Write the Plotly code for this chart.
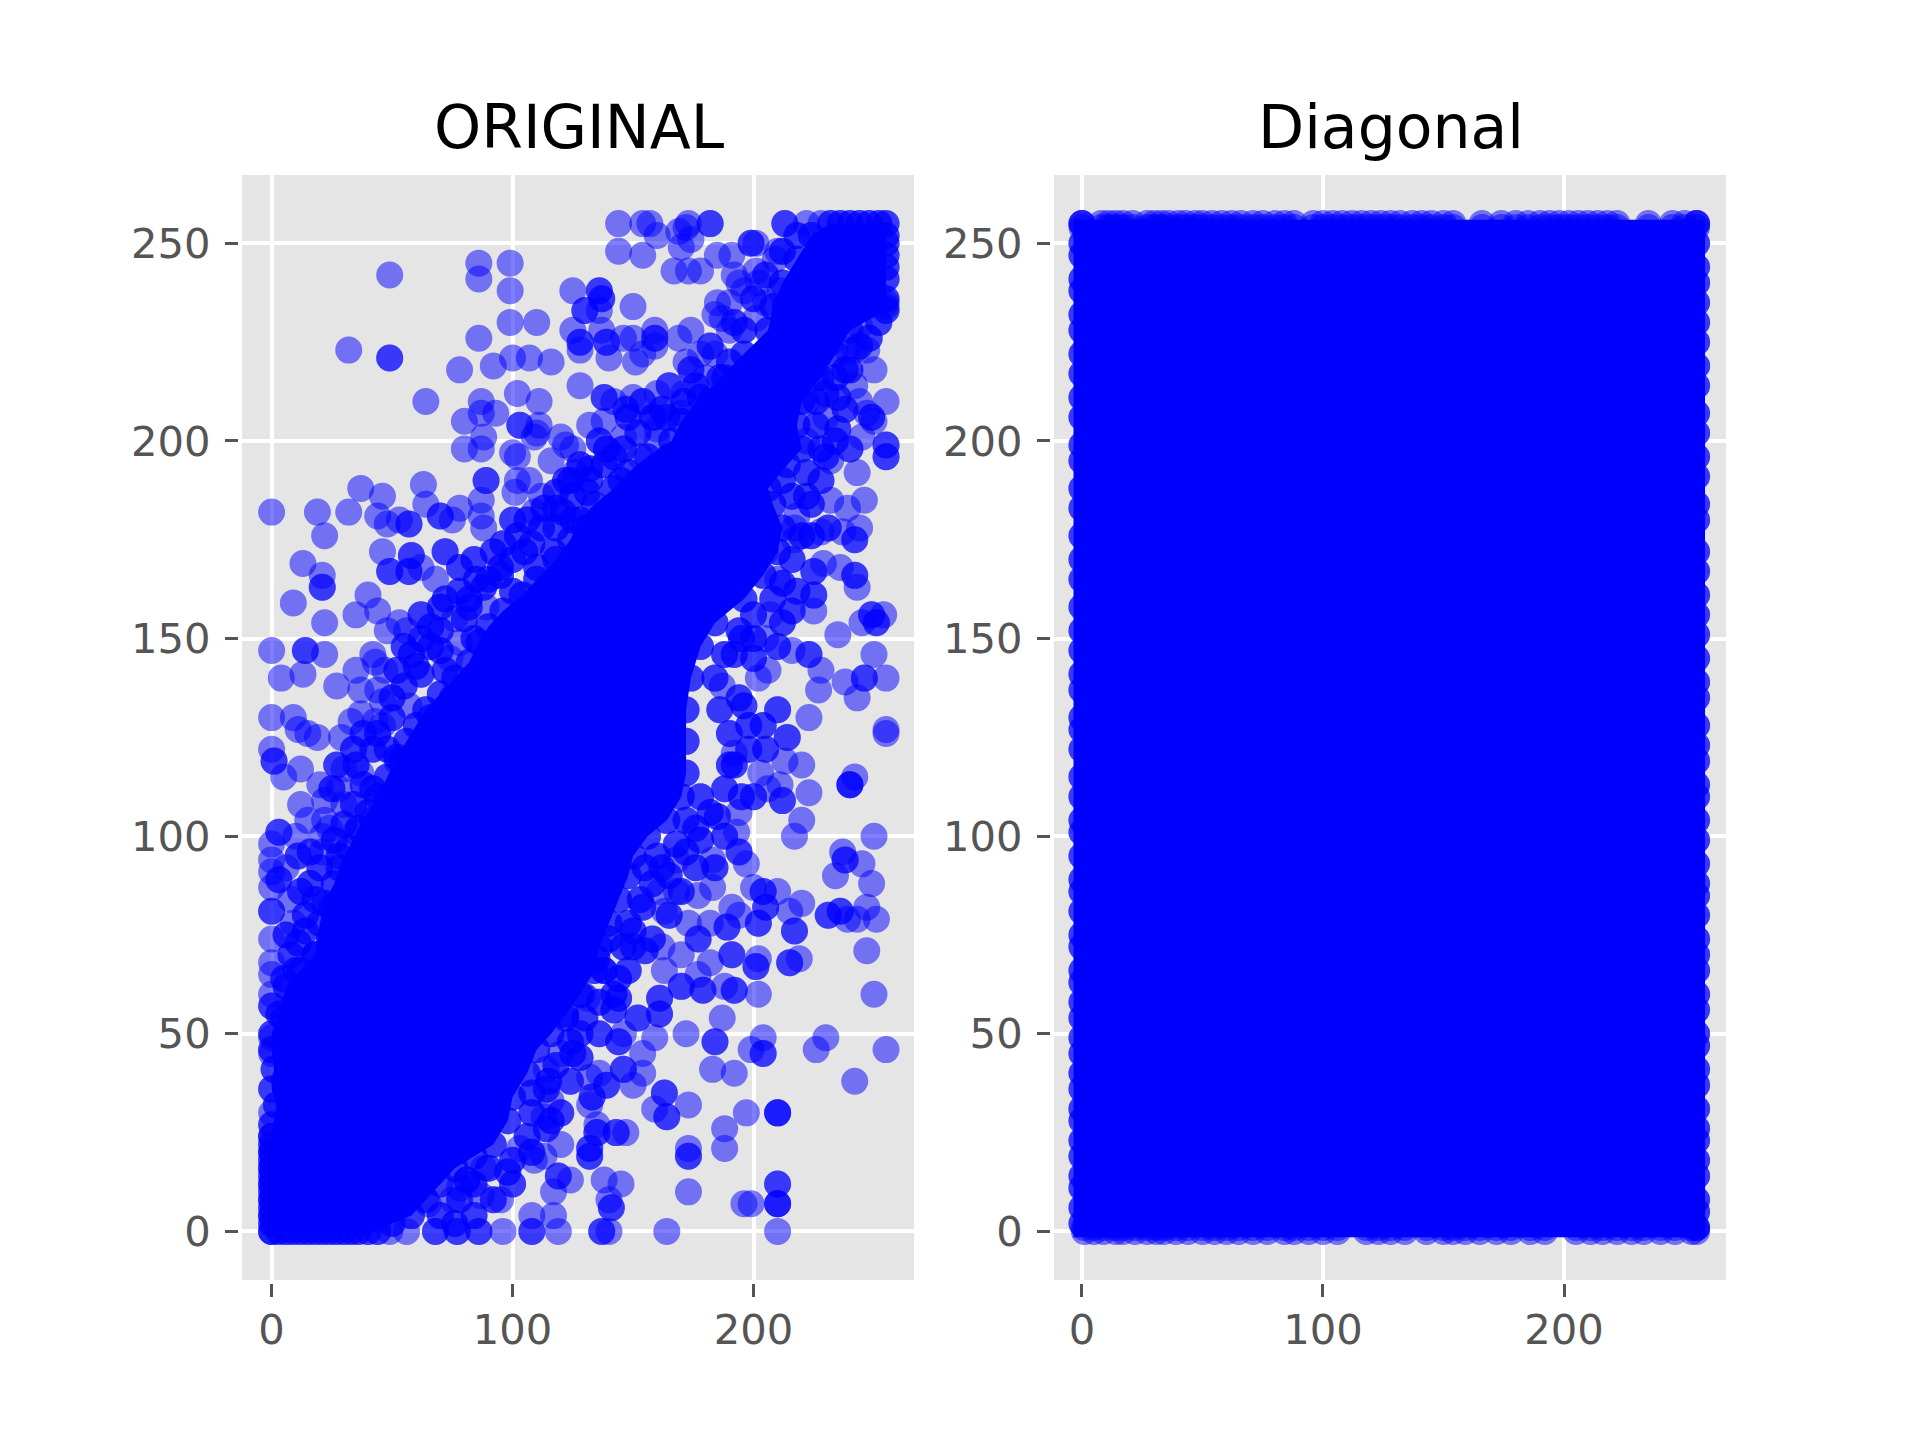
import plotly.graph_objects as go

# Each entry: (x, y, how dark the overlap looks there: more means more dots on the same spot)
upper_middle = [(144,255,1),(154,255,1),(157,255,1),(160,252,1),(169,253,1),(172,254,1),(173,255,1),(174,251,1),(182,255,2),
 (144,248,1),(154,247,1),(170,249,1),(167,243,1),(173,243,1),(178,243,1),(185,247,1),(191,247,1),(199,250,2),(201,250,1),
 (213,255,2),(222,255,1),(210,248,1),(209,246,1),(192,242,1),(194,240,1),(201,243,1),(196,238,1),(202,240,1),(185,235,1),
 (184,232,1),(190,235,1),(187,231,1),(201,231,1),(196,228,2),(211,238,1),(213,234,1),(228,255,1),(205,235,1),(190,228,1),
 (125,238,1),(136,238,2),(137,236,2),(130,233,2),(136,233,1),(150,234,1),(125,228,1),(128,225,2),(128,223,1),(137,228,1),
 (139,225,2),(140,221,1),(146,226,1),(150,226,1),(159,228,1),(159,226,2),(159,224,1),(151,220,1),(154,222,1),(169,226,1),
 (174,228,1),(172,220,1),(128,214,1),(138,211,2),(142,210,1),(147,208,2),(150,211,1),(160,212,1),(159,206,1),(162,208,2),
 (170,207,1),(171,212,1),(171,210,3),(182,210,4),(132,204,1),(138,205,1),(146,201,1),(139,198,3),(132,193,3),(125,198,1),
 (122,199,1),(160,203,1),(160,200,1),(153,196,1),(178,222,1),(184,222,1),(190,220,2),(180,216,1),(188,216,2),(165,196,2),(145,190,2)]
upper_left = [(49,242,1),(86,245,1),(86,241,1),(99,245,1),(99,238,1),(99,230,1),(110,230,1),(86,226,1),(32,223,1),(49,221,2),
 (78,218,1),(92,219,1),(100,221,1),(107,221,1),(116,220,1),(64,210,1),(87,210,1),(87,207,1),(93,207,1),(80,205,1),(102,212,1),
 (111,210,1),(103,204,2),(110,202,1),(111,204,1),(88,201,1),(80,198,1),(87,198,1),(100,197,1),(102,196,1),(109,201,1),(120,201,1),
 (116,195,1),(126,192,1),(122,190,2),(131,187,2),(118,187,2),(125,180,2),(130,178,2),(117,172,2),(110,168,2)]
upper_right = [(255,210,1),(255,235,1),(255,234,1),(244,229,1),(247,223,1),(242,223,1),(239,223,1),(242,214,1),(235,211,3),(244,210,1),
 (247,207,1),(249,206,2),(250,205,1),(235,203,2),(230,206,1),(240,198,2),(245,201,1),(232,195,1),(243,192,1),(255,199,3),(255,196,3),
 (224,184,3),(232,185,1),(239,183,1),(246,185,1),(231,178,3),(228,177,1),(237,177,1),(244,178,1),(242,175,2),(217,178,1),(217,175,1),
 (218,181,1),(229,169,1),(236,168,1),(242,166,2),(243,163,1),(225,167,2),(225,161,3),(225,157,1),(216,157,2),(207,156,1),(245,154,1),
 (249,156,2),(254,156,1),(251,154,2),(235,151,1),(210,148,3),(216,147,1),(223,146,2),(250,146,1),(228,142,1),(238,139,1),(246,140,3),
 (255,140,1),(243,135,1),(227,137,1),(223,130,1),(255,127,1),(210,132,2),(202,140,1),(196,133,3),(187,138,1),(205,150,1),(200,145,2),
 (195,150,2),(210,165,1),(205,172,1),(212,190,2),(222,200,1),(228,190,2),(222,210,1),(226,216,1),(240,232,1),(250,236,2),(232,225,1)]
middle_left = [(0,182,1),(19,182,1),(32,182,1),(22,176,1),(37,188,1),(46,186,1),(63,189,1),(64,184,1),(44,181,1),(48,179,1),(53,180,1),
 (57,179,2),(70,181,3),(75,180,1),(78,183,1),(87,185,1),(87,181,1),(88,178,1),(100,180,2),(101,187,1),(102,190,1),(89,190,2),(107,190,1),
 (112,186,1),(109,182,1),(121,182,2),(46,172,1),(49,167,2),(58,171,2),(57,167,2),(62,168,1),(13,169,1),(21,166,1),(21,163,3),(9,159,1),
 (40,161,1),(35,156,1),(44,157,1),(48,152,1),(53,154,1),(22,154,1),(62,156,2),(70,158,2),(80,155,3),(89,158,1),(0,147,1),(14,147,2),
 (22,146,1),(55,148,2),(42,146,1),(47,142,1),(43,144,1),(35,142,1),(4,140,1),(13,141,1),(27,138,1),(37,137,1),(44,137,1),(70,147,2),
 (78,149,1),(74,145,1),(62,141,3),(0,130,1),(9,130,1),(11,127,1),(15,126,1),(33,129,1),(37,131,1),(43,129,1),(57,133,1),(72,172,2),
 (78,168,2),(92,172,2),(85,165,2),(95,168,2),(105,172,2),(100,162,2),(82,160,2),(68,165,1),(75,135,2),(66,130,2),(72,142,2),(84,150,2)]
lower_left = [(0,122,1),(1,119,3),(5,115,1),(12,117,1),(19,125,1),(29,125,1),(12,108,1),(22,109,1),(25,112,2),(30,117,1),(37,116,1),
 (42,112,3),(52,119,1),(54,119,2),(3,101,2),(0,98,1),(11,95,2),(21,100,1),(24,102,1),(21,96,1),(35,101,1),(0,94,1),(0,91,1),(3,89,2),
 (0,87,1),(0,81,3),(14,80,2),(0,74,1),(11,73,2),(0,68,1),(0,65,1),(5,64,2),(0,60,1),(0,57,2),(0,49,1),(0,45,1),(5,38,1),(0,30,1),(0,27,3),
 (28,95,2),(34,92,2),(16,88,2),(25,82,2),(42,104,2),(8,84,1),(18,70,2),(24,74,2),(10,66,2),(5,54,2),(30,108,1),(48,110,2)]
lower_right = [(255,126,1),(242,115,1),(240,113,4),(220,118,1),(213,119,1),(203,116,1),(192,121,1),(198,122,2),(214,125,2),(223,111,1),
 (211,113,1),(212,109,3),(220,104,1),(217,100,1),(250,100,1),(194,106,1),(193,101,1),(237,96,1),(238,94,2),(245,93,1),(234,90,1),(249,88,1),
 (197,93,1),(178,99,2),(183,94,1),(184,92,3),(168,94,1),(200,87,1),(210,86,1),(204,86,2),(205,82,2),(220,83,1),(215,81,1),(217,76,3),
 (231,80,3),(236,81,3),(243,79,1),(251,79,1),(247,82,1),(239,79,1),(247,71,1),(250,60,1),(202,78,3),(194,80,1),(189,77,2),(191,82,1),
 (182,78,1),(177,74,3),(173,78,1),(163,81,1),(153,84,2),(177,85,1),(168,86,1),(183,87,1),(161,86,1),(150,76,2),(140,74,2),(150,72,2),
 (155,71,3),(162,72,1),(170,70,1),(182,68,1),(191,70,3),(201,67,3),(202,69,1),(215,68,2),(219,69,1),(163,66,1),(177,65,1),(170,62,2),
 (179,61,3),(188,62,1),(192,61,3),(202,60,1),(161,59,3),(142,60,3),(144,59,2),(131,59,1),(138,66,4),(129,67,3),(161,55,2),(152,54,2),
 (187,54,1),(159,49,1),(146,50,1),(172,50,1),(184,48,3),(204,49,1),(199,46,1),(204,45,2),(230,49,1),(226,46,1),(255,46,1),(183,41,1),
 (192,40,1),(242,38,1),(154,45,1),(144,48,2),(154,40,1),(146,41,3),(150,37,1),(132,39,1),(136,40,1),(139,37,3),(133,34,3),(132,32,1),
 (163,35,3),(159,31,1),(164,29,3),(173,32,1),(197,30,1),(210,30,4),(188,26,1),(188,21,1),(173,21,1),(173,19,2),(173,10,1),(210,12,3),
 (210,7,4),(196,7,1),(199,7,1),(190,118,2),(205,122,2),(195,110,2),(185,105,3),(172,104,2),(178,110,3),(160,95,2),(165,90,2),(155,92,2),(172,96,2)]
bottom_row = [(210,0,1),(164,0,1),(140,0,1),(137,0,3),(119,0,1),(108,0,3),(96,0,1),(86,0,2),(77,0,3),(68,0,3),(56,0,1),(49,0,1),(117,4,1),
 (108,4,1),(117,10,1),(119,14,3),(124,13,1),(138,13,1),(145,12,1),(140,8,1),(141,6,2),(109,18,1),(113,19,1),(132,21,3),(132,19,2),(120,22,1),
 (143,25,3),(147,25,1),(135,25,2),(135,27,1),(114,26,3),(120,30,3),(113,29,1),(116,33,1),(98,15,3),(103,21,1),(88,16,1),(87,9,1),(78,11,1),
 (81,13,4),(75,8,1),(65,7,1),(114,41,1),(115,38,3),(120,45,1),(122,54,3),(129,60,1),(135,69,3),(128,50,2),(125,45,2),(108,35,2),(95,8,1)]
fringe_left = [(28,112,1),(35,118,2),(42,122,2),(46,128,1),(50,135,2),(55,138,2),(60,143,2),(66,148,2),(70,152,2),(76,155,1),(82,158,2),
 (88,163,2),(95,166,2),(100,170,2),(108,174,2),(112,178,2),(118,183,2),(125,186,2),(132,190,2),(138,194,2),(146,198,2),(152,202,2),(158,206,2),
 (165,214,2),(174,218,2),(182,224,2),(192,230,2),(200,236,2),(205,242,2),(212,248,2),(218,252,2),(8,70,2),(14,76,2),(18,84,2),(20,92,2),(22,104,1),
 (6,75,2),(9,78,1),(12,86,2),(6,92,1),(16,96,2),(10,100,1),(15,104,1),(26,99,2),(30,103,2),(34,108,2),(38,113,2),(20,113,1),(27,118,2),(34,122,2),
 (38,126,2),(44,126,2),(48,122,2),(50,130,2),(46,134,1),(52,142,2),(58,146,2),(62,150,2),(66,153,2),(56,152,1),(72,160,2),(78,162,2),(84,170,2),
 (90,165,2),(96,174,2),(102,176,2),(106,180,2),(113,183,2),(118,178,2),(124,190,2),(128,194,2),(136,200,2),(142,196,2),(148,206,2),(154,210,2),
 (164,206,2),(176,214,2),(178,205,2)]
fringe_right = [(70,4,2),(78,8,2),(84,12,2),(90,16,2),(100,18,2),(106,24,2),(108,30,2),(114,36,2),(118,42,2),(124,48,2),(130,54,2),(136,58,2),
 (144,64,2),(146,72,2),(148,78,2),(154,82,2),(158,88,2),(162,92,2),(168,98,2),(176,102,2),(182,106,2),(188,112,2),(192,118,2),(190,126,2),
 (186,132,2),(184,140,2),(188,146,2),(194,152,2),(200,156,2),(208,160,2),(212,164,2),(216,170,2),(220,176,2),(216,186,2),(222,192,2),(228,198,2),
 (226,204,2),(230,212,2),(238,218,2),(244,224,2),(252,230,2),(170,86,2),(176,92,2),(188,100,2),(194,96,2),(200,110,2),(206,112,1),(198,128,2),
 (194,135,2),(204,128,2),(192,146,2),(200,150,2),(206,142,1),(212,154,2),(218,162,2),(224,176,2),(222,186,2),(230,196,2),(234,200,2),(226,210,2),
 (238,208,2),(234,216,2),(240,218,2),(248,226,2),(250,218,1),(165,80,2),(158,74,2),(148,66,2),(142,56,2),(136,50,2),(128,44,2),(124,38,2),(116,28,2),
 (108,20,2),(100,12,2),(92,8,2),(84,4,2),(76,2,2)]
corner_fill = [(3,0,2),(9,0,2),(15,0,2),(21,0,2),(27,0,2),(33,0,2),(40,0,2),(0,2,2),(0,6,2),(0,10,2),(0,14,2),(0,18,2),(0,22,2),
 (236,255,2),(244,255,2),(252,255,2),(255,252,2),(255,247,2),(255,241,2),(255,236,2)]

# Dots along the edge of the merged blue area; the solid fill runs between these two edges
edge_left = [(0,0,4),(0,4,4),(0,8,4),(0,12,4),(0,16,4),(0,20,4),(0,24,4),(2,32,3),(0,36,3),(1,41,3),(0,46,3),(0,50,3),(3,55,3),(6,62,3),(12,66,3),
 (18,70,3),(20,78,3),(22,83,3),(26,88,3),(28,92,3),(32,97,3),(36,102,3),(40,106,3),(44,110,3),(48,115,3),(52,120,3),(56,124,3),(60,128,3),
 (64,132,3),(70,136,3),(76,140,3),(82,144,3),(86,149,3),(90,153,3),(96,157,3),(104,161,3),(110,165,3),(118,170,3),(124,175,3),(128,180,3),
 (134,184,3),(142,188,3),(148,192,3),(156,196,3),(166,200,3),(170,205,3),(178,211,3),(186,216,3),(196,222,3),(206,228,3),(208,234,3),(212,240,3),
 (218,246,3),(224,252,3),(232,255,3),(240,255,3),(248,255,3),(255,255,3)]
edge_right = [(6,0,3),(12,0,3),(18,0,3),(24,0,3),(30,0,3),(36,0,3),(44,0,3),(50,2,3),(58,4,3),(64,8,3),(70,12,3),(76,16,3),(84,19,3),(92,22,3),
 (98,28,3),(100,34,3),(106,40,3),(110,46,3),(116,50,3),(122,55,3),(128,60,3),(134,66,3),(136,72,3),(140,78,3),(144,84,3),(148,90,3),(150,95,3),
 (156,100,3),(164,104,3),(170,110,3),(172,116,3),(172,124,3),(172,132,3),(174,140,3),(178,148,3),(184,154,3),(196,160,3),(204,166,3),(210,172,3),
 (212,178,3),(208,184,3),(206,188,3),(214,194,3),(220,198,3),(218,204,3),(220,210,3),(228,216,3),(234,222,3),(240,228,3),(255,233,3),
 (255,244,3),(255,250,3)]

# Corners of the fully merged area of the right panel
solid_right_x = [-3.5,258.5,258.5,-3.5]
solid_right_y = [-1.5,-1.5,256,256]

# Dots that form the scalloped rim of the right panel
rim_top_x = [0,8,11,14,17,21,27,30,33,36,40,43,47,50,54,58,62,66,71,75,80,84,88,96,100,104,108,112,116,120,124,128,132,137,141,145,150,154,166,174,180,185,190,194,198,202,206,210,214,218,222,235,245,250,255]
rim_bottom_x = [1,5,9,14,17,22,27,31,34,39,44,50,55,60,65,71,77,84,88,94,100,106,118,123,128,134,143,150,154,159,165,172,178,186,192,205,211,216,222,228,233,240,246,253,255]
rim_left_y = [2,6,11,14,19,23,28,31,36,40,45,49,54,58,63,66,72,75,81,86,89,95,101,104,110,115,122,127,130,137,141,147,152,158,165,170,176,183,188,195,199,206,211,217,222,228,232,238,241,247,250,255]
rim_right_y = [1,5,8,14,18,23,26,31,37,41,47,50,56,60,66,70,74,80,85,88,93,99,104,110,113,119,123,128,135,139,145,151,156,161,167,172,180,184,191,196,202,207,214,219,225,230,235,240,244,250,255]

ticks_x = [0,100,200]
ticks_y = [0,50,100,150,200,250]

BLUE = "#0000ff"
INK = "#555555"
PAGE = 8  # the page's own margin moves the figure this far right and down
LAYERS = {1: 1, 2: 2, 3: 2, 4: 3}  # dots drawn for each darkness class

points = (upper_middle + upper_left + upper_right + middle_left + lower_left + lower_right + bottom_row
          + fringe_left + fringe_right + corner_fill + edge_left + edge_right)
orig_x = [p[0] for p in points for _ in range(LAYERS[p[2]])]
orig_y = [p[1] for p in points for _ in range(LAYERS[p[2]])]
outline = edge_right + edge_left[::-1]
solid_left_x = [p[0] for p in outline]
solid_left_y = [p[1] for p in outline]

def dots(x, y, xa, ya):
    return go.Scatter(x=x, y=y, xaxis=xa, yaxis=ya, mode="markers", hoverinfo="skip", showlegend=False,
                      marker=dict(size=24, color=BLUE, opacity=0.5, line=dict(width=3, color=BLUE)))

def solid(x, y, xa, ya):
    return go.Scatter(x=x, y=y, xaxis=xa, yaxis=ya, mode="lines", fill="toself", fillcolor=BLUE,
                      line=dict(width=0, color=BLUE), hoverinfo="skip", showlegend=False)

rim_x = (rim_top_x * 2 + rim_bottom_x * 2 + [0] * len(rim_left_y) * 2 + [255] * len(rim_right_y) * 2)
rim_y = ([255] * len(rim_top_x) + [254] * len(rim_top_x) + [0] * len(rim_bottom_x) + [1] * len(rim_bottom_x)
         + rim_left_y * 2 + rim_right_y * 2)

fig = go.Figure([
    dots(orig_x, orig_y, "x", "y"),
    solid(solid_left_x, solid_left_y, "x", "y"),
    dots(rim_x, rim_y, "x2", "y2"),
    solid(solid_right_x, solid_right_y, "x2", "y2"),
])

def xaxis(domain, rng):
    return dict(domain=domain, range=rng, tickmode="array", tickvals=ticks_x, ticks="outside", ticklen=13, tickwidth=3.3,
                tickcolor=INK, showgrid=True, gridcolor="white", gridwidth=3.5, zeroline=False, showline=True,
                linecolor="white", linewidth=4, mirror=True, ticklabelstandoff=-3,
                tickfont=dict(family="DejaVu Sans", size=41.7, color=INK))

def yaxis(rng, anchor):
    return dict(domain=[(160+PAGE)/1440, (1265+PAGE)/1440], range=rng, anchor=anchor, tickmode="array", tickvals=ticks_y, ticks="outside",
                ticklen=13, tickwidth=3.3, tickcolor=INK, showgrid=True, gridcolor="white", gridwidth=3.5, zeroline=False,
                showline=True, linecolor="white", linewidth=4, mirror=True, ticklabelstandoff=6,
                tickfont=dict(family="DejaVu Sans", size=41.7, color=INK))

fig.update_layout(
    width=1920, height=1440, margin=dict(l=0, r=0, t=0, b=0), autosize=False,
    paper_bgcolor="white", plot_bgcolor="#e5e5e5",
    xaxis=xaxis([(242-PAGE)/1920, (914-PAGE)/1920], [-12.3, 266.6]),
    yaxis=yaxis([-12.3, 267.3], "x"),
    xaxis2=dict(xaxis([(1054-PAGE)/1920, (1726-PAGE)/1920], [-11.6, 267.2]), anchor="y2"),
    yaxis2=yaxis([-12.3, 267.3], "x2"),
    annotations=[
        dict(text="ORIGINAL", x=(579-PAGE)/1920, y=1-(127-PAGE)/1440, xref="paper", yref="paper", xanchor="center", yanchor="middle",
             showarrow=False, font=dict(family="DejaVu Sans", size=60, color="black")),
        dict(text="Diagonal", x=(1391-PAGE)/1920, y=1-(127-PAGE)/1440, xref="paper", yref="paper", xanchor="center", yanchor="middle",
             showarrow=False, font=dict(family="DejaVu Sans", size=60, color="black")),
    ],
)
fig.write_html("out.html")
